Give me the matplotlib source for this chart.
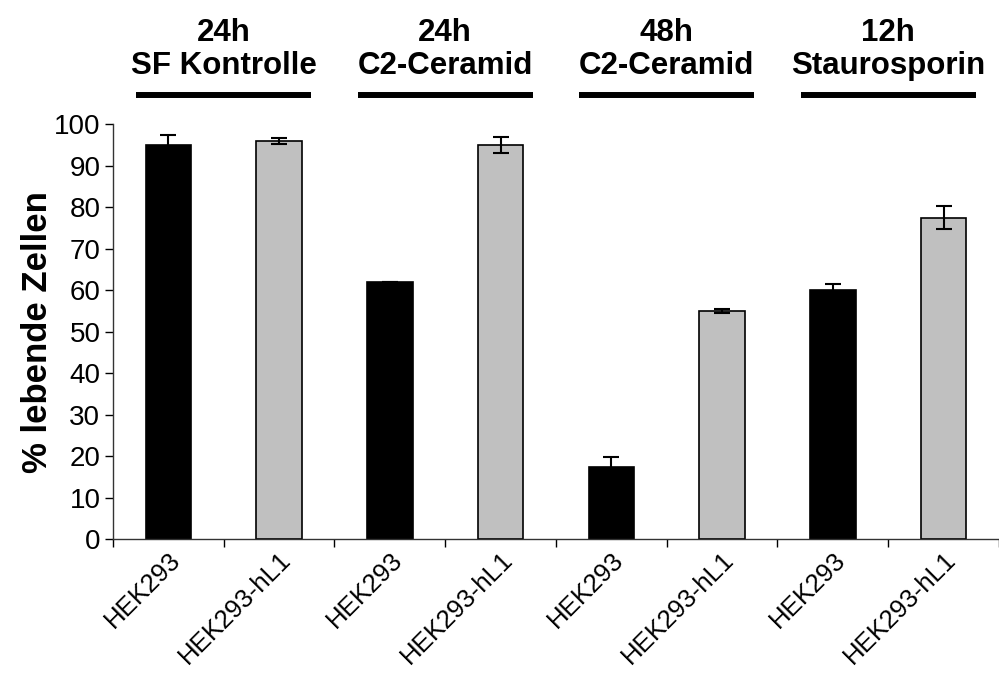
import matplotlib
matplotlib.use("Agg")
import matplotlib.pyplot as plt
import numpy as np

plt.rcParams["font.family"] = ["Liberation Sans", "DejaVu Sans"]

# data
cell_lines = ["HEK293", "HEK293-hL1"] * 4
values = [95.0, 96.0, 62.0, 95.0, 17.5, 55.0, 60.0, 77.5]
errors = [2.3, 0.8, 0.0, 2.0, 2.3, 0.5, 1.4, 2.8]
group_time = ["24h", "24h", "48h", "12h"]
group_treatment = ["SF Kontrolle", "C2-Ceramid", "C2-Ceramid", "Staurosporin"]
colors = ["#000000", "#c0c0c0"] * 4

fig = plt.figure(figsize=(9.99, 6.79), dpi=100)
ax = fig.add_axes([0.113, 0.206, 0.887, 0.611])

x = np.arange(len(values)) + 0.5
ax.bar(x, values, width=0.41, color=colors, edgecolor="black", linewidth=1.2, zorder=2)
ax.errorbar(x, values, yerr=errors, fmt="none", ecolor="black", elinewidth=1.5,
            capsize=6, capthick=1.5, zorder=3)

ax.set_xlim(0, len(values))
ax.set_ylim(0, 100)
ax.set_yticks(np.arange(0, 101, 10))
ax.tick_params(axis="y", labelsize=20, length=6, width=1, direction="out", pad=3)

ax.set_xticks(x)
ax.set_xticklabels(cell_lines, rotation=45, ha="right", rotation_mode="anchor", fontsize=18.5)
ax.tick_params(axis="x", which="major", length=0, pad=6)
ax.set_xticks(np.arange(0, len(values) + 1), minor=True)
ax.tick_params(axis="x", which="minor", length=6, width=1, direction="out")

for side in ["top", "right"]:
    ax.spines[side].set_visible(False)
for side in ["left", "bottom"]:
    ax.spines[side].set_linewidth(1)
    ax.spines[side].set_color("#333333")

ax.set_ylabel("% lebende Zellen", fontsize=25, fontweight="bold", labelpad=0)

# group headers with bars
for i, (t, tr) in enumerate(zip(group_time, group_treatment)):
    cx = 2 * i + 1
    ax.plot([cx - 0.79, cx + 0.79], [107, 107], color="black", lw=4.3,
            solid_capstyle="butt", clip_on=False)
    ax.text(cx, 114.0, tr, ha="center", va="center", fontsize=22.5, fontweight="bold",
            clip_on=False)
    ax.text(cx, 122.0, t, ha="center", va="center", fontsize=22.5, fontweight="bold",
            clip_on=False)

fig.savefig("out.png", dpi=100)
